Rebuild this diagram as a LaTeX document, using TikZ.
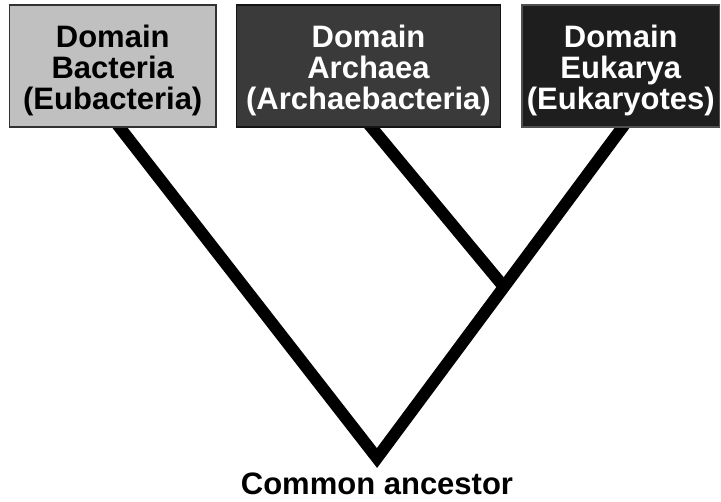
\documentclass[tikz,border=0pt]{standalone}
\usepackage{fontspec}
\setmainfont{Liberation Sans}
\begin{document}
\begin{tikzpicture}[x=1pt,y=-1pt,
  branch/.style={line width=12pt,black,line join=miter,line cap=butt},
  domainbox/.style={rectangle,inner sep=0pt,line width=1.5pt,minimum height=122pt},
  domaintext/.style={align=center,font=\fontsize{31}{31}\selectfont\bfseries,inner sep=0pt,anchor=center}
]
\useasboundingbox (0,0) rectangle (721,502);
% tree coordinates
\coordinate (V) at (377,458);
\coordinate (L) at (110,115);
\coordinate (R) at (631.6,115);
\coordinate (J) at (504,287);
\coordinate (A) at (361.2,115);
\draw[branch] (L) -- (V) -- (R);
\draw[branch] (A) -- (J);
% boxes
\node[domainbox,fill={rgb,255:red,192;green,192;blue,192},draw={rgb,255:red,50;green,50;blue,50},minimum width=206.5pt] (b1) at (112.75,66) {};
\node[domainbox,fill={rgb,255:red,58;green,58;blue,58},draw={rgb,255:red,20;green,20;blue,20},minimum width=264pt] (b2) at (368.5,66) {};
\node[domainbox,fill={rgb,255:red,30;green,30;blue,30},draw={rgb,255:red,80;green,80;blue,80},minimum width=197.5pt] (b3) at (620.75,66) {};
\node[domaintext,text=black] (t1) at (112.75,70) {Domain\\Bacteria\\(Eubacteria)};
\node[domaintext,text=white] (t2) at (368.5,70) {Domain\\Archaea\\(Archaebacteria)};
\node[domaintext,text=white] (t3) at (620.75,70) {Domain\\Eukarya\\(Eukaryotes)};
\node[font=\fontsize{31}{31}\selectfont\bfseries,anchor=base,inner sep=0pt] (ca) at (377,495) {Common ancestor};
\end{tikzpicture}
\end{document}
